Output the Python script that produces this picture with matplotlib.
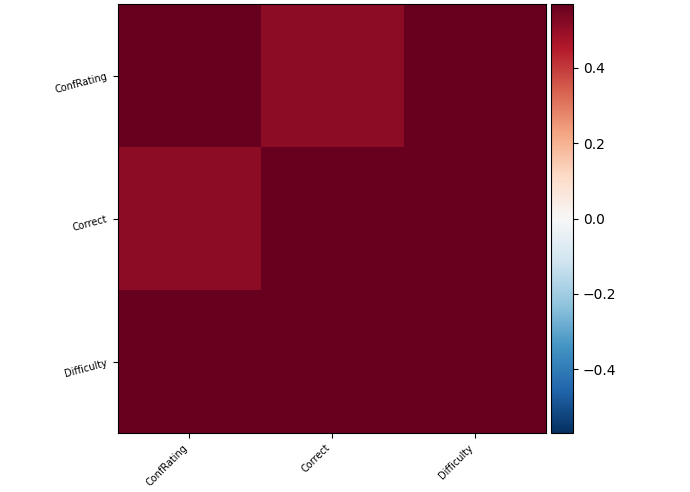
import numpy as np
import matplotlib
matplotlib.use("Agg")
import matplotlib.pyplot as plt

# Variables y matriz de correlación
variables = ["ConfRating", "Correct", "Difficulty"]
fila_conf = [1.00, 0.51, 0.57]
fila_correct = [0.51, 1.00, 0.57]
fila_diff = [0.57, 0.57, 1.00]
limite = 0.57

corr = np.array([fila_conf, fila_correct, fila_diff])

fig = plt.figure(figsize=(6.9, 4.92), dpi=100)
ax = fig.add_axes([118 / 690, 59 / 492, 428 / 690, 429 / 492])
cax = fig.add_axes([551 / 690, 59 / 492, 22 / 690, 429 / 492])

im = ax.imshow(corr, cmap="RdBu_r", vmin=-limite, vmax=limite, aspect="auto")

ax.set_xticks(range(len(variables)))
ax.set_yticks(range(len(variables)))
ax.set_xticklabels(variables, rotation=45, ha="right", fontsize=7)
ax.set_yticklabels(variables, rotation=15, ha="right", fontsize=7)

fig.colorbar(im, cax=cax, ticks=[-0.4, -0.2, 0.0, 0.2, 0.4])

plt.savefig("out.png", dpi=100)
plt.close()
